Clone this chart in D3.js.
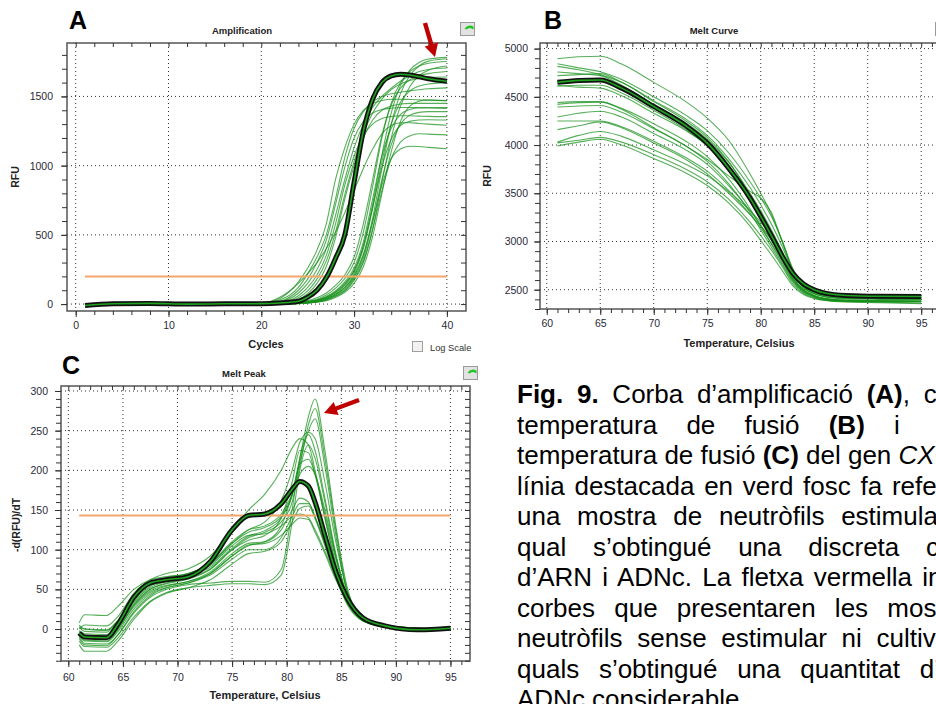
<!DOCTYPE html>
<html>
<head>
<meta charset="utf-8">
<script src="https://cdn.jsdelivr.net/npm/d3@7"></script>
<style>
  body { margin: 0; background: #fff; overflow: hidden; }
  svg { display: block; font-family: "Liberation Sans", Arial, sans-serif; }
</style>
</head>
<body>
<svg id="fig" width="936" height="704"></svg>
<script>
// ---- A: amplification (RFU per cycle) ----
const ampCycles = [1, 4, 8, 12, 16, 20, 22, 24, 25, 26, 27, 28, 29, 30, 31, 32, 33, 34, 35, 36, 37, 38, 40];
const ampHighlight = [-10, 2, 5, 0, 2, 3, 8, 20, 50, 100, 190, 330, 500, 880, 1250, 1480, 1600, 1648, 1660, 1655, 1642, 1628, 1610];
const ampCurves = [
  [0, 2, -2, 3, 0, 6, 40, 160, 260, 390, 580, 900, 1130, 1300, 1400, 1450, 1470, 1480, 1480, 1478, 1475, 1472, 1470],
  [0, -3, 1, 2, 0, 3, 30, 120, 220, 340, 500, 760, 1060, 1270, 1390, 1460, 1500, 1520, 1530, 1540, 1548, 1555, 1562],
  [0, 1, 3, -1, 2, 2, 20, 100, 180, 300, 460, 720, 990, 1200, 1320, 1380, 1405, 1415, 1420, 1420, 1418, 1416, 1414],
  [0, 0, 2, 1, -2, 2, 15, 80, 150, 250, 400, 640, 900, 1130, 1300, 1420, 1500, 1560, 1610, 1650, 1680, 1695, 1705],
  [0, -2, 0, 2, 1, 1, 10, 60, 120, 210, 350, 580, 860, 1070, 1220, 1300, 1340, 1355, 1360, 1360, 1358, 1356, 1354],
  [0, 0, 1, -1, 0, 1, 8, 45, 95, 180, 310, 520, 790, 1030, 1230, 1380, 1480, 1550, 1590, 1615, 1630, 1638, 1640],
  [0, 1, 0, 2, 0, 0, 6, 35, 75, 150, 270, 480, 760, 1000, 1200, 1330, 1400, 1430, 1445, 1450, 1450, 1450, 1450],
  [0, 0, 2, 0, 3, 8, 50, 150, 220, 300, 400, 520, 660, 820, 980, 1120, 1230, 1290, 1310, 1310, 1305, 1300, 1292],
  [0, 0, 1, 0, 0, 0, 2, 8, 15, 28, 50, 90, 150, 240, 420, 720, 1080, 1380, 1580, 1690, 1745, 1770, 1782],
  [0, 0, 0, 1, 0, 0, 1, 5, 10, 20, 38, 70, 120, 200, 350, 620, 980, 1300, 1520, 1650, 1720, 1755, 1772],
  [0, 1, 0, 0, 1, 1, 3, 10, 20, 35, 65, 115, 185, 300, 520, 850, 1200, 1450, 1600, 1680, 1720, 1740, 1752],
  [0, 0, 0, 0, 0, 0, 1, 4, 8, 15, 30, 55, 95, 170, 300, 540, 880, 1200, 1430, 1570, 1650, 1690, 1720],
  [0, 0, 1, 0, 1, 2, 5, 14, 25, 45, 80, 135, 210, 340, 580, 900, 1220, 1440, 1560, 1620, 1650, 1665, 1680],
  [0, 0, 0, 1, 0, 0, 2, 7, 13, 25, 45, 80, 135, 225, 400, 690, 1030, 1300, 1460, 1540, 1575, 1590, 1600],
  [0, 0, 1, 0, 0, 1, 3, 9, 17, 30, 55, 95, 160, 260, 450, 760, 1070, 1270, 1370, 1405, 1418, 1420, 1420],
  [0, 0, 0, 0, 0, 0, 1, 5, 10, 18, 35, 65, 110, 190, 330, 590, 900, 1150, 1300, 1365, 1385, 1390, 1390],
  [0, 0, 0, 0, 1, 0, 2, 7, 14, 26, 48, 85, 140, 240, 420, 700, 990, 1190, 1290, 1320, 1330, 1332, 1330],
  [0, 0, 0, 0, 0, 0, 1, 4, 9, 17, 32, 60, 100, 180, 310, 540, 820, 1050, 1170, 1215, 1230, 1228, 1222],
  [0, 0, 0, 0, 0, 0, 2, 6, 12, 22, 40, 72, 120, 210, 360, 600, 860, 1050, 1120, 1140, 1138, 1132, 1122],
  [0, 0, 0, 0, 0, 0, 1, 3, 7, 13, 25, 48, 85, 150, 270, 490, 800, 1100, 1320, 1430, 1465, 1475, 1470]
];
const ampThreshold = 200;
const ampThresholdSpan = [1, 40];

// ---- B: melt curve (RFU per temperature) ----
const meltTemps = [61, 63, 65, 67, 70, 73, 75, 77, 79, 80, 81, 82, 83, 84, 85, 86, 88, 91, 95];
const meltHighlight = [4650, 4670, 4675, 4590, 4400, 4200, 4020, 3760, 3450, 3260, 3060, 2850, 2670, 2560, 2500, 2465, 2440, 2432, 2430];
const meltCurves = [
  [4895, 4915, 4920, 4840, 4650, 4450, 4280, 4050, 3700, 3500, 3280, 3000, 2700, 2540, 2470, 2440, 2420, 2415, 2415],
  [4843, 4800, 4760, 4680, 4500, 4310, 4150, 3920, 3620, 3450, 3260, 3010, 2720, 2550, 2475, 2445, 2425, 2420, 2418],
  [4816, 4780, 4730, 4650, 4460, 4270, 4100, 3860, 3560, 3380, 3180, 2950, 2690, 2540, 2470, 2440, 2420, 2415, 2412],
  [4757, 4740, 4720, 4620, 4420, 4230, 4060, 3820, 3500, 3320, 3120, 2900, 2660, 2520, 2460, 2430, 2410, 2405, 2402],
  [4720, 4730, 4740, 4650, 4450, 4250, 4080, 3830, 3480, 3280, 3070, 2860, 2670, 2550, 2490, 2455, 2435, 2428, 2425],
  [4620, 4600, 4590, 4510, 4330, 4150, 4000, 3780, 3480, 3300, 3100, 2880, 2650, 2520, 2455, 2425, 2405, 2400, 2398],
  [4609, 4620, 4620, 4540, 4360, 4160, 3990, 3740, 3420, 3230, 3030, 2830, 2620, 2500, 2440, 2410, 2392, 2388, 2385],
  [4440, 4450, 4450, 4370, 4180, 3990, 3850, 3680, 3520, 3450, 3300, 3000, 2700, 2530, 2460, 2430, 2412, 2408, 2405],
  [4422, 4440, 4445, 4380, 4220, 4040, 3880, 3650, 3340, 3160, 2970, 2780, 2590, 2480, 2430, 2400, 2385, 2380, 2378],
  [4394, 4405, 4410, 4340, 4170, 3990, 3830, 3600, 3300, 3120, 2940, 2760, 2580, 2470, 2420, 2395, 2380, 2375, 2372],
  [4291, 4330, 4350, 4290, 4120, 3950, 3800, 3580, 3320, 3170, 3010, 2820, 2610, 2490, 2435, 2405, 2388, 2383, 2380],
  [4250, 4250, 4250, 4190, 4040, 3870, 3730, 3530, 3280, 3140, 2980, 2800, 2600, 2480, 2430, 2402, 2385, 2380, 2378],
  [4160, 4200, 4240, 4180, 4020, 3850, 3700, 3500, 3280, 3160, 3020, 2840, 2620, 2490, 2432, 2400, 2382, 2378, 2375],
  [4030, 4100, 4140, 4090, 3950, 3800, 3680, 3520, 3320, 3200, 3060, 2870, 2640, 2500, 2440, 2408, 2390, 2385, 2382],
  [4022, 4050, 4080, 4030, 3900, 3750, 3620, 3440, 3200, 3060, 2910, 2740, 2560, 2460, 2415, 2390, 2375, 2372, 2360],
  [3991, 4030, 4060, 4000, 3860, 3710, 3580, 3400, 3160, 3010, 2860, 2700, 2540, 2450, 2410, 2388, 2372, 2366, 2355]
];

// ---- C: melt peak (-d(RFU)/dT per temperature) ----
const peakTemps = [61, 61.5, 63.5, 64.5, 66, 67.5, 69, 71, 73, 75, 76.5, 78, 79.5, 80.5, 81.2, 82, 82.6, 83.5, 84.5, 85.5, 87, 89, 92, 95];
const peakHighlight = [-5, -10, -11, 5, 40, 58, 62, 66, 85, 125, 143, 145, 158, 176, 186, 180, 160, 118, 72, 40, 14, 4, -1, 1];
const peakCurves = [
  [5, 0, -2, 10, 38, 56, 63, 70, 82, 108, 122, 128, 142, 170, 215, 268, 290, 225, 130, 55, 12, 3, 0, 1],
  [-8, -14, -15, -2, 30, 50, 58, 64, 76, 100, 115, 122, 135, 160, 205, 258, 278, 215, 125, 50, 10, 2, -1, 0],
  [-2, -6, -7, 6, 34, 52, 60, 67, 78, 102, 117, 124, 140, 168, 210, 250, 265, 205, 118, 48, 10, 3, 0, 0],
  [8, 18, 17, 28, 50, 62, 66, 70, 82, 108, 125, 135, 162, 200, 235, 248, 240, 185, 110, 50, 15, 5, 1, 0],
  [-10, -18, -19, -8, 20, 40, 50, 56, 58, 60, 60, 59, 75, 150, 215, 245, 225, 165, 95, 42, 12, 3, 0, 0],
  [-15, -22, -23, -12, 15, 35, 46, 52, 55, 57, 57, 56, 68, 135, 200, 232, 215, 160, 92, 40, 11, 3, 0, -1],
  [0, 5, 4, 15, 45, 62, 70, 76, 92, 125, 150, 170, 200, 228, 240, 232, 200, 140, 80, 38, 12, 4, 1, 0],
  [-5, -8, -9, 3, 32, 50, 57, 63, 75, 100, 112, 118, 140, 185, 225, 222, 195, 140, 82, 38, 11, 3, 0, 0],
  [-12, -20, -21, -8, 22, 42, 52, 58, 70, 92, 105, 110, 130, 170, 208, 214, 195, 145, 88, 42, 12, 4, 0, 0],
  [3, 0, -1, 10, 40, 58, 65, 70, 83, 110, 125, 130, 145, 170, 195, 205, 195, 150, 92, 45, 14, 4, 1, 0],
  [-3, -10, -11, 2, 30, 48, 55, 60, 72, 95, 108, 110, 125, 150, 165, 160, 140, 105, 65, 32, 10, 3, 0, 0],
  [-8, -15, -16, -4, 25, 44, 52, 58, 68, 88, 100, 100, 115, 142, 158, 158, 142, 108, 68, 34, 11, 3, 0, -1],
  [-20, -28, -28, -16, 12, 34, 45, 52, 62, 82, 95, 98, 110, 135, 152, 155, 140, 108, 68, 34, 11, 3, 0, 0],
  [2, -3, -4, 8, 36, 54, 62, 68, 80, 105, 118, 120, 130, 142, 145, 140, 125, 98, 65, 36, 14, 5, 1, 0],
  [-6, -12, -13, 0, 28, 46, 54, 60, 70, 92, 106, 108, 118, 132, 140, 138, 122, 95, 62, 35, 13, 5, 1, 0]
];
const peakThreshold = 143;
const peakThresholdSpan = [61, 95];

// ---- caption (ws = extra word spacing of each justified line) ----
const captionLines = [
  { ws: 6.5, parts: [['Fig. 9.', 'b'], [' Corba d’amplificació '], ['(A)', 'b'], [', corba de']] },
  { ws: 22, parts: [['temperatura de fusió '], ['(B)', 'b'], [' i']] },
  { ws: 0, parts: [['temperatura de fusió '], ['(C)', 'b'], [' del gen '], ['CXCL8', 'i']] },
  { ws: 2.5, parts: [['línia destacada en verd fosc fa referència']] },
  { ws: 9.5, parts: [['una mostra de neutròfils estimulats']] },
  { ws: 19.5, parts: [['qual s’obtingué una discreta concentració']] },
  { ws: 3, parts: [['d’ARN i ADNc. La fletxa vermella indica']] },
  { ws: 12, parts: [['corbes que presentaren les mostres']] },
  { ws: 7.5, parts: [['neutròfils sense estimular ni cultivats']] },
  { ws: 12.5, parts: [['quals s’obtingué una quantitat d’ARN i']] },
  { ws: 0, parts: [['ADNc considerable.']] }
];

const green = '#16901a';
const svg = d3.select('#fig');

function drawPanel(cfg) {
  const g = svg.append('g');
  const x = d3.scaleLinear().domain(cfg.xDomain).range([cfg.left, cfg.right]);
  const y = d3.scaleLinear().domain(cfg.yDomain).range([cfg.bottom, cfg.top]);

  g.append('clipPath').attr('id', cfg.id + '-clip')
    .append('rect')
    .attr('x', cfg.left).attr('y', cfg.top)
    .attr('width', cfg.right - cfg.left).attr('height', cfg.bottom - cfg.top);

  // dotted grid
  g.append('g').selectAll('line').data(cfg.xMajor).join('line')
    .attr('x1', (d) => x(d)).attr('x2', (d) => x(d))
    .attr('y1', cfg.top).attr('y2', cfg.bottom);
  g.append('g').selectAll('line').data(cfg.yMajor).join('line')
    .attr('x1', cfg.left).attr('x2', cfg.right)
    .attr('y1', (d) => y(d)).attr('y2', (d) => y(d));
  g.selectAll('g line')
    .attr('stroke', '#333')
    .attr('stroke-width', 1)
    .attr('stroke-dasharray', '1,3');

  const line = d3.line()
    .x((d) => x(d[0]))
    .y((d) => y(d[1]))
    .curve(d3.curveMonotoneX);

  const plot = g.append('g').attr('clip-path', `url(#${cfg.id}-clip)`);

  plot.selectAll('path.curve')
    .data(cfg.curves)
    .join('path')
    .attr('class', 'curve')
    .attr('fill', 'none')
    .attr('stroke', green)
    .attr('stroke-opacity', 0.72)
    .attr('stroke-width', 1.1)
    .attr('d', (vals) => line(cfg.xs.map((t, i) => [t, vals[i]])));

  if (cfg.threshold !== undefined) {
    plot.append('line')
      .attr('x1', x(cfg.thresholdSpan[0])).attr('x2', x(cfg.thresholdSpan[1]))
      .attr('y1', y(cfg.threshold)).attr('y2', y(cfg.threshold))
      .attr('stroke', '#f3a66c')
      .attr('stroke-width', 2);
  }

  const hl = cfg.xs.map((t, i) => [t, cfg.highlight[i]]);
  plot.append('path')
    .attr('fill', 'none')
    .attr('stroke', '#111')
    .attr('stroke-width', 5)
    .attr('stroke-linejoin', 'round')
    .attr('d', line(hl));
  plot.append('path')
    .attr('fill', 'none')
    .attr('stroke', '#1fa21f')
    .attr('stroke-width', 1.6)
    .attr('d', line(hl));

  // frame
  g.append('rect')
    .attr('x', cfg.left).attr('y', cfg.top)
    .attr('width', cfg.right - cfg.left).attr('height', cfg.bottom - cfg.top)
    .attr('fill', 'none')
    .attr('stroke', '#555')
    .attr('stroke-width', 1.5);

  const styleAxis = (sel) => {
    sel.select('.domain').remove();
    sel.selectAll('line').attr('stroke', '#333');
    sel.selectAll('text')
      .attr('fill', '#2a2a38')
      .style('font-size', '10.5px');
  };
  const fmt = d3.format('d');

  g.append('g').attr('transform', `translate(0,${cfg.bottom})`)
    .call(d3.axisBottom(x).tickValues(cfg.xMinor).tickSize(4).tickFormat(''))
    .call(styleAxis);
  g.append('g').attr('transform', `translate(0,${cfg.bottom})`)
    .call(d3.axisBottom(x).tickValues(cfg.xMajor).tickSize(6).tickPadding(cfg.xPad).tickFormat(fmt))
    .call(styleAxis);
  g.append('g').attr('transform', `translate(0,${cfg.top})`)
    .call(d3.axisTop(x).tickValues(cfg.xMinor).tickSize(-4).tickFormat(''))
    .call(styleAxis);
  g.append('g').attr('transform', `translate(${cfg.left},0)`)
    .call(d3.axisLeft(y).tickValues(cfg.yMinor).tickSize(5).tickFormat(''))
    .call(styleAxis);
  g.append('g').attr('transform', `translate(${cfg.left},0)`)
    .call(d3.axisLeft(y).tickValues(cfg.yMajor).tickSize(6).tickPadding(cfg.yPad).tickFormat(fmt))
    .call(styleAxis);
  g.append('g').attr('transform', `translate(${cfg.right},0)`)
    .call(d3.axisRight(y).tickValues(cfg.yMinor).tickSize(-5).tickFormat(''))
    .call(styleAxis);

  // texts
  g.append('text')
    .attr('x', cfg.letter[0]).attr('y', cfg.letter[1])
    .attr('font-size', 25).attr('font-weight', 'bold')
    .text(cfg.letter[2]);
  g.append('text')
    .attr('x', cfg.titleX).attr('y', cfg.titleY)
    .attr('text-anchor', 'middle')
    .attr('font-size', 9.5).attr('font-weight', 'bold').attr('fill', '#222')
    .text(cfg.title);
  g.append('text')
    .attr('x', cfg.xLabelX).attr('y', cfg.xLabelY)
    .attr('text-anchor', 'middle')
    .attr('font-size', 11).attr('font-weight', 'bold').attr('fill', '#222')
    .text(cfg.xLabel);
  g.append('text')
    .attr('transform', `translate(${cfg.yLabelX},${cfg.yLabelY}) rotate(-90)`)
    .attr('text-anchor', 'middle')
    .attr('font-size', 10.5).attr('font-weight', 'bold').attr('fill', '#222')
    .text(cfg.yLabel);

  drawIcon(cfg.icon[0], cfg.icon[1]);
  return { x, y };
}

function drawIcon(ix, iy) {
  const g = svg.append('g').attr('transform', `translate(${ix},${iy})`);
  g.append('rect').attr('width', 14).attr('height', 13)
    .attr('fill', '#e2e2e2').attr('stroke', '#9a9a9a');
  g.append('path')
    .attr('d', 'M4,6 Q8,1 13,4 L13,7 Q9,4 6,7 Z')
    .attr('fill', '#22c622');
}

function drawArrow(x1, y1, x2, y2) {
  const dx = x2 - x1;
  const dy = y2 - y1;
  const len = Math.hypot(dx, dy);
  const ux = dx / len;
  const uy = dy / len;
  const px = -uy;
  const py = ux;
  const head = 13;
  const hw = 7;
  const sw = 2.2;
  const bx = x2 - ux * head;
  const by = y2 - uy * head;
  const pts = [
    [x1 + px * sw, y1 + py * sw],
    [bx + px * sw, by + py * sw],
    [bx + px * hw, by + py * hw],
    [x2, y2],
    [bx - px * hw, by - py * hw],
    [bx - px * sw, by - py * sw],
    [x1 - px * sw, y1 - py * sw]
  ];
  svg.append('path')
    .attr('d', d3.line()(pts) + 'Z')
    .attr('fill', '#c00000');
}

// panel A
drawPanel({
  id: 'amp',
  left: 67, right: 466, top: 43, bottom: 311,
  xDomain: [-0.94, 42.06], yDomain: [-50, 1886],
  xMajor: [0, 10, 20, 30, 40], xMinor: d3.range(0, 42, 2),
  yMajor: [0, 500, 1000, 1500], yMinor: d3.range(0, 1900, 100),
  xPad: 5, yPad: 8,
  xs: ampCycles, curves: ampCurves, highlight: ampHighlight,
  threshold: ampThreshold, thresholdSpan: ampThresholdSpan,
  letter: [69, 29, 'A'],
  title: 'Amplification', titleX: 242, titleY: 34,
  xLabel: 'Cycles', xLabelX: 266, xLabelY: 348,
  yLabel: 'RFU', yLabelX: 19, yLabelY: 177,
  icon: [460.5, 22.5]
});

// log scale checkbox under A
svg.append('rect').attr('x', 412.5).attr('y', 341.5).attr('width', 10).attr('height', 10)
  .attr('fill', '#f2f2f2').attr('stroke', '#a0a0a0');
svg.append('text').attr('x', 430).attr('y', 351)
  .attr('font-size', 9.3).attr('fill', '#333').text('Log Scale');

// panel B
drawPanel({
  id: 'melt',
  left: 540, right: 950, top: 43, bottom: 309,
  xDomain: [59.37, 97.69], yDomain: [2300, 5058],
  xMajor: [60, 65, 70, 75, 80, 85, 90, 95], xMinor: d3.range(60, 98, 1),
  yMajor: [2500, 3000, 3500, 4000, 4500, 5000], yMinor: d3.range(2300, 5100, 100),
  xPad: 5, yPad: 6,
  xs: meltTemps, curves: meltCurves, highlight: meltHighlight,
  letter: [544, 29, 'B'],
  title: 'Melt Curve', titleX: 714, titleY: 34,
  xLabel: 'Temperature, Celsius', xLabelX: 739, xLabelY: 347,
  yLabel: 'RFU', yLabelX: 491, yLabelY: 176,
  icon: [935.5, 22.5]
});

// panel C
drawPanel({
  id: 'peak',
  left: 61, right: 470, top: 386, bottom: 661,
  xDomain: [59.33, 96.79], yDomain: [-40.3, 306.3],
  xMajor: [60, 65, 70, 75, 80, 85, 90, 95], xMinor: d3.range(60, 97, 1),
  yMajor: [0, 50, 100, 150, 200, 250, 300], yMinor: d3.range(-40, 310, 10),
  xPad: 7, yPad: 7,
  xs: peakTemps, curves: peakCurves, highlight: peakHighlight,
  threshold: peakThreshold, thresholdSpan: peakThresholdSpan,
  letter: [62, 374, 'C'],
  title: 'Melt Peak', titleX: 244, titleY: 377,
  xLabel: 'Temperature, Celsius', xLabelX: 265, xLabelY: 699,
  yLabel: '-d(RFU)/dT', yLabelX: 20, yLabelY: 525,
  icon: [463.5, 366.5]
});

drawArrow(425, 23, 435, 57);
drawArrow(359, 400, 324, 413);

// caption
const cap = svg.append('g').attr('font-size', 26).attr('fill', '#000');
captionLines.forEach((ln, i) => {
  const t = cap.append('text')
    .attr('x', 517)
    .attr('y', 403 + i * 30.5)
    .attr('word-spacing', ln.ws)
    .style('white-space', 'pre');
  ln.parts.forEach((p) => {
    t.append('tspan')
      .attr('font-weight', p[1] === 'b' ? 'bold' : null)
      .attr('font-style', p[1] === 'i' ? 'italic' : null)
      .text(p[0]);
  });
});
</script>
</body>
</html>
